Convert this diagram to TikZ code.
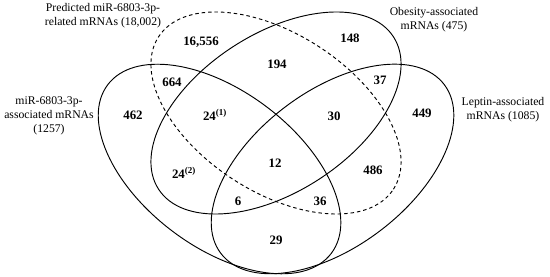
\documentclass[tikz,border=0pt]{standalone}
\usepackage{fontspec}
\setmainfont{Liberation Serif}
\usetikzlibrary{positioning}

\begin{document}
\begin{tikzpicture}[x=0.03cm, y=0.03cm,
  setline/.style={line width=0.8pt},
  predline/.style={setline, dash pattern=on 3pt off 2.5pt},
  count/.style={font=\fontsize{11}{13}\selectfont\bfseries, inner sep=0pt},
  setlabel/.style={align=center, font=\fontsize{10}{12}\selectfont, inner sep=0pt}
]
\useasboundingbox (0,0) rectangle (550,277);

% set centres
\coordinate (mirC) at (219.5,108);
\coordinate (predC) at (276,164);
\coordinate (obesC) at (276,164);
\coordinate (leptC) at (332.5,108);

% the four sets
\draw[setline, rotate around={-37:(mirC)}] (mirC) ellipse [x radius=140, y radius=78];
\draw[predline, rotate around={-33:(predC)}] (predC) ellipse [x radius=140, y radius=79];
\draw[setline, rotate around={33:(obesC)}] (obesC) ellipse [x radius=140, y radius=79];
\draw[setline, rotate around={37:(leptC)}] (leptC) ellipse [x radius=140, y radius=78];

% set labels
\node[setlabel] (predLabel) at (103,261) {Predicted miR-6803-3p-\\related mRNAs (18,002)};
\node[setlabel] (obesLabel) at (434,257) {Obesity-associated\\mRNAs (475)};
\node[setlabel] (mirLabel) at (49,161) {miR-6803-3p-\\associated mRNAs\\(1257)};
\node[setlabel] (leptLabel) at (503,167) {Leptin-associated\\mRNAs (1085)};

% region counts
\node[count] (predOnly) at (201,235) {16,556};
\node[count] (predObes) at (277,213) {194};
\node[count] (obesOnly) at (350,239) {148};
\node[count] (mirPred) at (172,195) {664};
\node[count] (mirOnly) at (133,162) {462};
\node[count] (mirPredObes) at (215,162) {24\textsuperscript{(1)}};
\node[count] (predObesLept) at (334,161) {30};
\node[count] (obesLept) at (380,197) {37};
\node[count] (leptOnly) at (422,164) {449};
\node[count] (allSets) at (275,114) {12};
\node[count] (mirObes) at (184,104) {24\textsuperscript{(2)}};
\node[count] (predLept) at (373,107) {486};
\node[count] (mirObesLept) at (238,76) {6};
\node[count] (mirPredLept) at (320,76) {36};
\node[count] (mirLept) at (276,37) {29};
\end{tikzpicture}
\end{document}
